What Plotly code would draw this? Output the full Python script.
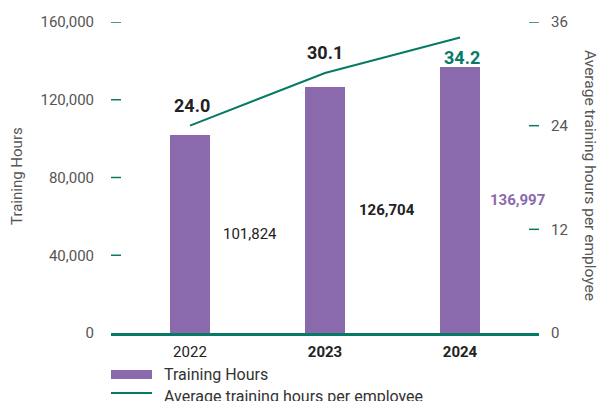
import plotly.graph_objects as go

# Training data by year
years = ["2022", "2023", "2024"]
training_hours = [101824, 126704, 136997]
avg_hours_per_employee = [24.0, 30.1, 34.2]

hours_ticks = [0, 40000, 80000, 120000, 160000]
avg_ticks = [0, 12, 24, 36]

PURPLE = "#8a69ad"
TEAL = "#077a66"
GRAY = "#555555"
DARK = "#222222"
FONT = "Roboto"

# plot area in pixels (for placing the custom legend)
W, H = 598, 401
L, R, T, B = 111, 59, 22, 68
PW, PH = W - L - R, H - T - B


def px_x(x):
    return (x - L) / PW


def px_y(y):
    return (H - B - y) / PH


fig = go.Figure()

fig.add_trace(go.Bar(
    x=years, y=training_hours, name="Training Hours",
    marker=dict(color=PURPLE, line=dict(width=0)), width=0.29,
    yaxis="y", showlegend=False,
))

fig.add_trace(go.Scatter(
    x=years, y=avg_hours_per_employee, name="Average training hours per employee",
    mode="lines", line=dict(color=TEAL, width=2), yaxis="y2", showlegend=False,
))

annotations = []

# value labels for the bars, placed beside each bar at half its height
bar_styles = [
    dict(color=DARK, bold=False, xshift=60),
    dict(color=DARK, bold=True, xshift=62),
    dict(color=PURPLE, bold=True, xshift=57),
]
for i, (v, st) in enumerate(zip(training_hours, bar_styles)):
    label = f"{v:,}"
    if st["bold"]:
        label = f"<b>{label}</b>"
    annotations.append(dict(
        x=i, y=v / 2, xref="x", yref="y", text=label, showarrow=False,
        xanchor="center", yanchor="middle",
        xshift=st["xshift"], font=dict(family=FONT, size=15, color=st["color"]),
    ))

# value labels for the line
line_styles = [
    dict(color=DARK, yshift=20, xshift=2),
    dict(color=DARK, yshift=20, xshift=0),
    dict(color=TEAL, yshift=-20, xshift=2),
]
for i, (v, st) in enumerate(zip(avg_hours_per_employee, line_styles)):
    annotations.append(dict(
        x=i, y=v, xref="x", yref="y2", text=f"<b>{v:.1f}</b>", showarrow=False,
        xanchor="center", yanchor="middle",
        xshift=st["xshift"], yshift=st["yshift"],
        font=dict(family=FONT, size=18, color=st["color"]),
    ))

# axis titles
annotations.append(dict(
    x=px_x(17), y=px_y(176), xref="paper", yref="paper", text="Training Hours",
    xanchor="center", yanchor="middle",
    textangle=-90, showarrow=False, font=dict(family=FONT, size=15, color=GRAY),
))
annotations.append(dict(
    x=px_x(590), y=px_y(175), xref="paper", yref="paper",
    text="Average training hours per employee",
    xanchor="center", yanchor="middle",
    textangle=90, showarrow=False, font=dict(family=FONT, size=15.5, color=GRAY),
))

# legend
annotations.append(dict(
    x=px_x(162), y=px_y(374), xref="paper", yref="paper", text="Training Hours",
    xanchor="left", yanchor="middle", showarrow=False,
    font=dict(family=FONT, size=16, color="#333333"),
))
annotations.append(dict(
    x=px_x(162), y=px_y(396), xref="paper", yref="paper",
    text="Average training hours per employee",
    xanchor="left", yanchor="middle", showarrow=False,
    font=dict(family=FONT, size=16, color="#333333"),
))

shapes = [
    dict(type="rect", xref="paper", yref="paper",
         x0=px_x(111), x1=px_x(152), y0=px_y(379), y1=px_y(370),
         fillcolor=PURPLE, line=dict(width=0)),
    dict(type="line", xref="paper", yref="paper",
         x0=px_x(111), x1=px_x(152), y0=px_y(393), y1=px_y(393),
         line=dict(color=TEAL, width=2)),
]

# short tick marks inside the plot for both value axes
TICK_W = 10 / PW
for v in hours_ticks[1:]:
    shapes.append(dict(type="line", xref="paper", yref="y", x0=0, x1=TICK_W,
                       y0=v, y1=v, line=dict(color=TEAL, width=1.5)))
for v in avg_ticks[1:]:
    shapes.append(dict(type="line", xref="paper", yref="y2", x0=1 - TICK_W, x1=1,
                       y0=v, y1=v, line=dict(color=TEAL, width=1.5)))

fig.update_layout(
    width=W, height=H,
    margin=dict(l=L, r=R, t=T, b=B, pad=0),
    paper_bgcolor="white", plot_bgcolor="white",
    font=dict(family=FONT, size=15, color=GRAY),
    showlegend=False,
    bargap=0,
    xaxis=dict(
        type="category", range=[-0.585, 2.585],
        tickvals=years, ticktext=["2022", "<b>2023</b>", "<b>2024</b>"],
        tickfont=dict(family=FONT, size=15, color=DARK),
        showgrid=False, zeroline=False,
        showline=True, linecolor=TEAL, linewidth=2.5,
        ticks="", ticklabelstandoff=3,
    ),
    yaxis=dict(
        range=[0, 160000], tickvals=hours_ticks,
        tickformat=",d", showgrid=False, zeroline=False, showline=False,
        ticks="",
        tickfont=dict(family=FONT, size=15, color=GRAY),
        ticklabelstandoff=16,
    ),
    yaxis2=dict(
        range=[0, 36], tickvals=avg_ticks, overlaying="y", side="right",
        showgrid=False, zeroline=False, showline=False,
        ticks="",
        tickfont=dict(family=FONT, size=15, color=GRAY),
        ticklabelstandoff=11,
    ),
    annotations=annotations,
    shapes=shapes,
)

fig.write_html("out.html")
